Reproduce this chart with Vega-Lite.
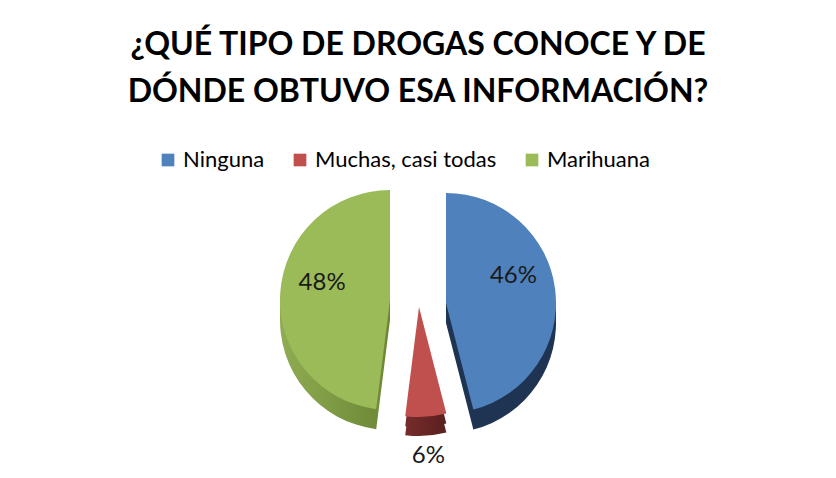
{
  "$schema": "https://vega.github.io/schema/vega-lite/v6.json",
  "width": 836,
  "height": 262,
  "autosize": "none",
  "padding": {"top": 170, "left": 0, "right": 0, "bottom": 46},
  "background": "white",
  "config": {"view": {"stroke": null}},
  "title": {
    "text": ["¿QUÉ TIPO DE DROGAS CONOCE Y DE", "DÓNDE OBTUVO ESA INFORMACIÓN?"],
    "font": "Lato",
    "fontSize": 32,
    "fontWeight": "bold",
    "color": "#000000",
    "lineHeight": 47,
    "anchor": "middle",
    "frame": "group",
    "offset": 40
  },
  "data": {
    "values": [
      {"category": "Ninguna", "value": 0.46, "order": 1},
      {"category": "Muchas, casi todas", "value": 0.06, "order": 2},
      {"category": "Marihuana", "value": 0.48, "order": 3}
    ]
  },
  "transform": [
    {"stack": "value", "groupby": [], "sort": [{"field": "order", "order": "ascending"}], "as": ["v0", "v1"]},
    {"calculate": "(datum.v0 + datum.v1) / 2", "as": "mid"}
  ],
  "encoding": {
    "theta": {"field": "v0", "type": "quantitative", "scale": {"domain": [0, 1]}},
    "theta2": {"field": "v1"}
  },
  "layer": [
    {"transform": [{"filter": "datum.category == 'Marihuana'"}], "mark": {"type": "arc", "outerRadius": 110, "xOffset": -28, "yOffset": 9, "color": {"gradient": "linear", "x1": 0, "x2": 1, "y1": 0, "y2": 0, "stops": [{"offset": 0, "color": "#8FAC52"}, {"offset": 1, "color": "#6C8635"}]}}},
    {"transform": [{"filter": "datum.category == 'Marihuana'"}], "mark": {"type": "arc", "outerRadius": 110, "xOffset": -28, "yOffset": 19, "color": {"gradient": "linear", "x1": 0, "x2": 1, "y1": 0, "y2": 0, "stops": [{"offset": 0, "color": "#8FAC52"}, {"offset": 1, "color": "#6C8635"}]}}},
    {"transform": [{"filter": "datum.category == 'Ninguna'"}], "mark": {"type": "arc", "outerRadius": 110, "xOffset": 28, "yOffset": 12, "color": "#1F3452"}},
    {"transform": [{"filter": "datum.category == 'Ninguna'"}], "mark": {"type": "arc", "outerRadius": 110, "xOffset": 28, "yOffset": 22, "color": "#1F3452"}},
    {"transform": [{"filter": "datum.category == 'Muchas, casi todas'"}], "mark": {"type": "arc", "outerRadius": 110, "xOffset": 1, "yOffset": 16, "color": {"gradient": "linear", "x1": 0, "x2": 1, "y1": 0, "y2": 0, "stops": [{"offset": 0, "color": "#762C2A"}, {"offset": 1, "color": "#5A201F"}]}}},
    {"transform": [{"filter": "datum.category == 'Muchas, casi todas'"}], "mark": {"type": "arc", "outerRadius": 110, "xOffset": 1, "yOffset": 25, "color": {"gradient": "linear", "x1": 0, "x2": 1, "y1": 0, "y2": 0, "stops": [{"offset": 0, "color": "#762C2A"}, {"offset": 1, "color": "#5A201F"}]}}},
    {
      "transform": [{"filter": "datum.category == 'Marihuana'"}],
      "mark": {"type": "arc", "outerRadius": 110, "xOffset": -28, "yOffset": -1},
      "encoding": {"color": {"field": "category", "type": "nominal",
        "scale": {"domain": ["Ninguna", "Muchas, casi todas", "Marihuana"], "range": ["#4F81BD", "#C0504D", "#9BBB59"]},
        "legend": {"title": null, "orient": "none", "direction": "horizontal", "legendX": 157, "legendY": -21,
          "symbolType": "square", "symbolSize": 160, "symbolStrokeWidth": 0, "labelFont": "Lato", "labelFontSize": 22,
          "labelColor": "#000000", "labelOffset": 4, "columnPadding": 24, "labelLimit": 400}}}
    },
    {
      "transform": [{"filter": "datum.category == 'Ninguna'"}],
      "mark": {"type": "arc", "outerRadius": 110, "xOffset": 28, "yOffset": 2},
      "encoding": {"color": {"field": "category", "type": "nominal"}}
    },
    {
      "transform": [{"filter": "datum.category == 'Muchas, casi todas'"}],
      "mark": {"type": "arc", "outerRadius": 110, "xOffset": 1, "yOffset": 6},
      "encoding": {"color": {"field": "category", "type": "nominal"}}
    },
    {
      "transform": [{"filter": "datum.category == 'Marihuana'"}],
      "mark": {"type": "text", "radius": 68, "xOffset": -28, "yOffset": -14, "font": "Lato", "fontSize": 24, "color": "#1a1a1a"},
      "encoding": {"theta": {"field": "mid", "type": "quantitative", "scale": {"domain": [0, 1]}}, "theta2": null, "text": {"field": "value", "type": "quantitative", "format": ".0%"}}
    },
    {
      "transform": [{"filter": "datum.category == 'Ninguna'"}],
      "mark": {"type": "text", "radius": 68, "xOffset": 28, "yOffset": -16, "font": "Lato", "fontSize": 24, "color": "#1a1a1a"},
      "encoding": {"theta": {"field": "mid", "type": "quantitative", "scale": {"domain": [0, 1]}}, "theta2": null, "text": {"field": "value", "type": "quantitative", "format": ".0%"}}
    },
    {
      "transform": [{"filter": "datum.category == 'Muchas, casi todas'"}],
      "mark": {"type": "text", "radius": 149, "xOffset": 1, "yOffset": 6, "font": "Lato", "fontSize": 24, "color": "#1a1a1a"},
      "encoding": {"theta": {"field": "mid", "type": "quantitative", "scale": {"domain": [0, 1]}}, "theta2": null, "text": {"field": "value", "type": "quantitative", "format": ".0%"}}
    }
  ]
}
